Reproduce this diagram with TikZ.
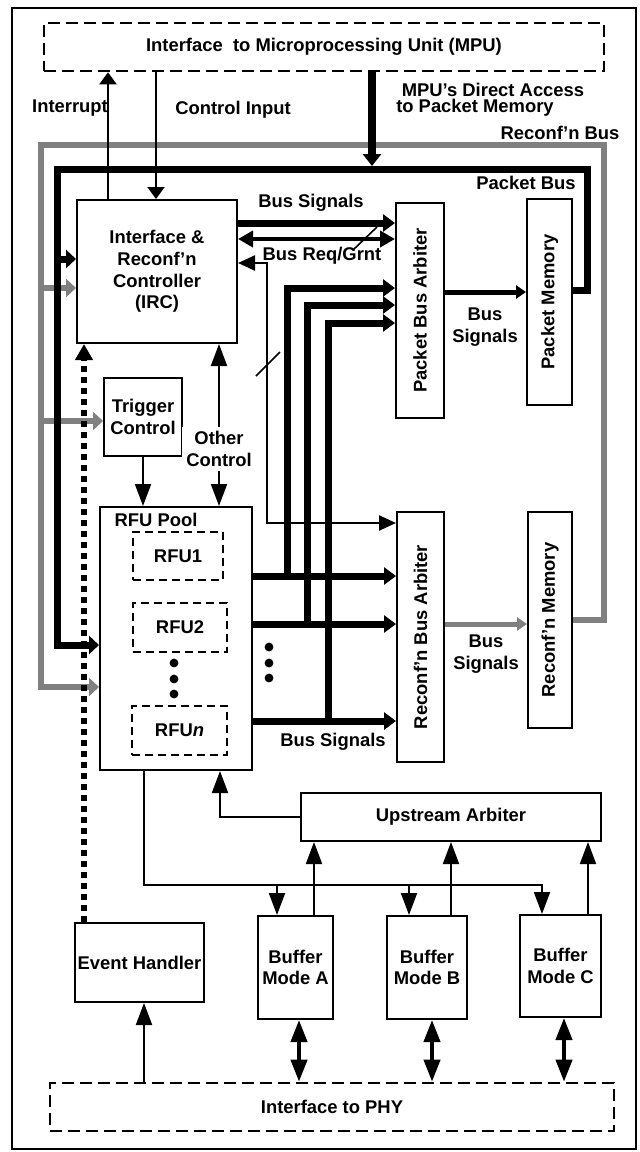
\documentclass[tikz,border=0pt]{standalone}
\usepackage{fontspec}
\setmainfont{Liberation Sans}
\usetikzlibrary{arrows.meta,calc}
\definecolor{busgray}{RGB}{128,128,128}
\begin{document}
\begin{tikzpicture}[x=0.5pt,y=-0.5pt,
  every node/.style={font=\bfseries\fontsize{9.2}{10.85}\selectfont, inner sep=0pt, align=center},
  box/.style={draw, line width=1pt, inner sep=0pt, align=center},
  dbox/.style={box, dash pattern=on 6pt off 3pt, line width=1.3pt},
  rbox/.style={box, dash pattern=on 4pt off 2.5pt, line width=1.2pt},
  thinarr/.style={line width=1pt, -{Triangle[length=11pt,width=8pt]}},
  shortarr/.style={line width=1pt, -{Triangle[length=6pt,width=8.5pt]}},
  tbus/.style={line width=3.5pt, line join=miter, -{Triangle[length=6pt,width=8.5pt]}},
  pbus/.style={line width=3.5pt, line join=miter, -{Triangle[length=5pt,width=9pt]}},
  gbus/.style={line width=3pt, draw=busgray, line join=miter, -{Triangle[length=5pt,width=9pt]}},
  dblarr/.style={line width=2pt, {Triangle[length=11pt,width=8pt]}-{Triangle[length=11pt,width=8pt]}},
  dotline/.style={line width=3pt, dash pattern=on 3pt off 2.5pt, -{Triangle[length=8pt,width=8.5pt]}},
  slash/.style={line width=0.8pt}
]
\useasboundingbox (0,0) rectangle (639,1152);
\draw[line width=1.2pt] (12,8) rectangle (636,1149);

% ---------- boxes ----------
\node[dbox, minimum width=280pt, minimum height=24pt] (mpu) at (324,47) {\raisebox{2pt}{Interface\ \ to Microprocessing Unit (MPU)}};
\node[box, minimum width=80pt, minimum height=71.5pt] (irc) at (157,271.5) {Interface \&\\Reconf’n\\Controller\\(IRC)};
\node[box, minimum width=39pt, minimum height=39pt] (trig) at (143,417) {Trigger\\Control};
\node[box, minimum width=76pt, minimum height=131.5pt] (pool) at (176,638.5) {};
\node (poollbl) at (156,520) {RFU Pool};
\node[rbox, minimum width=45pt, minimum height=24pt] (rfu1) at (178,556) {RFU1};
\node[rbox, minimum width=47pt, minimum height=24.5pt] (rfu2) at (180,627.5) {RFU2};
\node[rbox, minimum width=47.5pt, minimum height=24.5pt] (rfun) at (179.5,730.5) {RFU\textit{n}};
\node[box, minimum width=24pt, minimum height=107.5pt] (pba) at (420,310.5) {\rotatebox{90}{Packet Bus Arbiter}};
\node[box, minimum width=22.5pt, minimum height=103pt] (pm) at (549.5,302) {\rotatebox{90}{Packet Memory}};
\node[box, minimum width=23.5pt, minimum height=125pt] (rba) at (420.5,637) {\rotatebox{90}{Reconf’n Bus Arbiter}};
\node[box, minimum width=22pt, minimum height=108pt] (rm) at (550,620) {\rotatebox{90}{Reconf’n Memory}};
\node[box, minimum width=150pt, minimum height=24pt] (ua) at (451,817) {Upstream Arbiter};
\node[box, minimum width=37.5pt, minimum height=51.5pt] (bufA) at (295.5,967.5) {Buffer\\Mode A};
\node[box, minimum width=40pt, minimum height=51.5pt] (bufB) at (427,967.5) {Buffer\\Mode B};
\node[box, minimum width=40.5pt, minimum height=51pt] (bufC) at (560.5,966) {Buffer\\Mode C};
\node[box, minimum width=64.5pt, minimum height=39.5pt] (eh) at (139.5,962.5) {Event Handler};
\node[dbox, minimum width=282pt, minimum height=24pt] (phy) at (332,1107) {Interface to PHY};

% ---------- labels ----------
\node (lint) at (70,108) {Interrupt};
\node (lci) at (233,110) {Control Input};
\node (lmpu1) at (493,90) {MPU’s Direct Access};
\node (lmpu2) at (475,108) {to Packet Memory};
\node (lrb) at (560,133) {Reconf’n Bus};
\node (lpb) at (526,183) {Packet Bus};
\node (lbs1) at (311,203) {Bus Signals};
\node (lbrg) at (322,256) {Bus Req/Grnt};
\node (lbs2) at (485,327) {Bus\\Signals};
\node (lbs3) at (486,654) {Bus\\Signals};
\node (lbs4) at (333,742) {Bus Signals};
\node[fill=white, inner sep=2pt] (oc) at (219,449) {Other\\Control};

% ---------- coordinates ----------
\coordinate (xI) at (108,0);
\coordinate (xC) at (156,0);
\coordinate (d1) at (372,166);
\coordinate (g1) at (41,687); \coordinate (g2) at (41,145);
\coordinate (g3) at (604,145); \coordinate (g4) at (604,620);
\coordinate (g5) at (41,288); \coordinate (g6) at (41,421);
\coordinate (p1) at (57,645); \coordinate (p2) at (57,169);
\coordinate (p3) at (587,169); \coordinate (p4) at (587,290);
\coordinate (p5) at (57,259);
\coordinate (s1) at (0,223); \coordinate (s2) at (0,239);
\coordinate (sl1a) at (353,250); \coordinate (sl1b) at (377,227);
\coordinate (r1) at (267,263); \coordinate (r2) at (267,523);
\coordinate (sl2a) at (256,376); \coordinate (sl2b) at (280,352);
\coordinate (t1a) at (287,288); \coordinate (t1b) at (287,576);
\coordinate (t2a) at (307,305); \coordinate (t2b) at (307,624);
\coordinate (t3a) at (328,323); \coordinate (t3b) at (328,721);
\coordinate (m1) at (0,292); \coordinate (m2) at (0,624);
\coordinate (xE) at (84,0);
\coordinate (xU) at (220,0);
\coordinate (bl) at (144,885); \coordinate (bc) at (542,885);
\coordinate (xA) at (277,885); \coordinate (xB) at (409,885);
\coordinate (uA) at (314,0); \coordinate (uB) at (451,0); \coordinate (uC) at (588,0);
\coordinate (dA) at (299,0); \coordinate (dB) at (432,0); \coordinate (dC) at (564,0);
\coordinate (xEH) at (144,0);

% ---------- gray reconfiguration bus ----------
\draw[gbus] (rm.east |- g4) -- (g4) -- (g3) -- (g2) -- (g1) -- (pool.west |- g1);
\draw[gbus] (g5) -- (irc.west |- g5);
\draw[gbus] (g6) -- (trig.west |- g6);

% ---------- black packet bus ----------
\draw[pbus] (pm.east |- p4) -- (p4) -- (p3) -- (p2) -- (p1) -- (pool.west |- p1);
\draw[pbus] (p5) -- (irc.west |- p5);
\draw[line width=4pt, -{Triangle[length=6pt,width=9pt]}] (mpu.south -| d1) -- (d1);

% ---------- MPU control ----------
\draw[shortarr] (irc.north -| xI) -- (mpu.south -| xI);
\draw[shortarr] (mpu.south -| xC) -- (irc.north -| xC);

% ---------- IRC to arbiters ----------
\draw[tbus] (irc.east |- s1) -- (pba.west |- s1);
\draw[line width=2pt, {Triangle[length=7.5pt,width=8pt]}-{Triangle[length=7.5pt,width=8pt]}] (irc.east |- s2) -- (pba.west |- s2);
\draw[slash] (sl1a) -- (sl1b);
\draw[line width=1.2pt, {Triangle[length=8.5pt,width=7.5pt]}-{Triangle[length=8.5pt,width=7.5pt]}] (irc.east |- r1) -- (r1) -- (r2) -- (rba.west |- r2);
\draw[slash] (sl2a) -- (sl2b);

% ---------- RFU bus lines ----------
\draw[tbus] (pool.east |- t1b) -- (rba.west |- t1b);
\draw[tbus] (pool.east |- t2b) -- (rba.west |- t2b);
\draw[tbus] (pool.east |- t3b) -- (rba.west |- t3b);
\draw[tbus] (t1b) -- (t1a) -- (pba.west |- t1a);
\draw[tbus] (t2b) -- (t2a) -- (pba.west |- t2a);
\draw[tbus] (t3b) -- (t3a) -- (pba.west |- t3a);

% ---------- arbiters to memories ----------
\draw[line width=2.5pt, -{Triangle[length=5pt,width=6.5pt]}] (pba.east |- m1) -- (pm.west |- m1);
\draw[line width=2.5pt, busgray, -{Triangle[length=5pt,width=6.5pt]}] (rba.east |- m2) -- (rm.west |- m2);

% ---------- control arrows ----------
\draw[thinarr] (oc.north) -- (irc.south -| oc.north);
\draw[thinarr] (oc.south) -- (pool.north -| oc.south);
\draw[thinarr] (trig.south) -- (pool.north -| trig.south);
\draw[dotline] (eh.north -| xE) -- (irc.south -| xE);

% ---------- lower part ----------
\draw[thinarr] (ua.west) -| (pool.south -| xU);
\draw[thinarr] (pool.south -| bl) -- (bl) -- (bc) -- (bufC.north -| bc);
\draw[thinarr] (xA) -- (bufA.north -| xA);
\draw[thinarr] (xB) -- (bufB.north -| xB);
\draw[thinarr] (bufA.north -| uA) -- (ua.south -| uA);
\draw[thinarr] (bufB.north -| uB) -- (ua.south -| uB);
\draw[thinarr] (bufC.north -| uC) -- (ua.south -| uC);
\draw[dblarr] (bufA.south -| dA) -- (phy.north -| dA);
\draw[dblarr] (bufB.south -| dB) -- (phy.north -| dB);
\draw[dblarr] (bufC.south -| dC) -- (phy.north -| dC);
\draw[thinarr] (phy.north -| xEH) -- (eh.south -| xEH);

% ---------- ellipsis dots ----------
\foreach \yy in {663,679,694} \fill (174,\yy) circle[radius=2.2pt];
\foreach \yy in {647,663,678} \fill (269,\yy) circle[radius=2.2pt];
\end{tikzpicture}
\end{document}
